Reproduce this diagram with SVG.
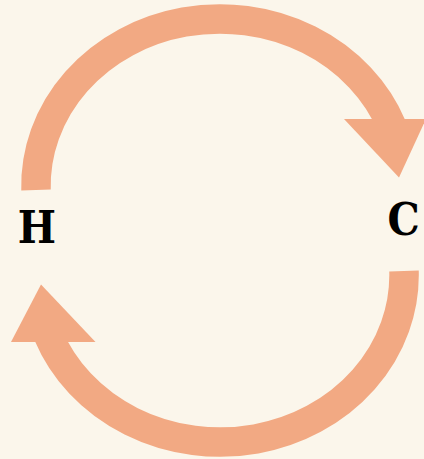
<svg xmlns="http://www.w3.org/2000/svg" width="424" height="459" viewBox="0 0 424 459">
  <style>
    .arc { fill: none; stroke: #F2A983; stroke-width: 29.5; stroke-linecap: butt; }
    .head { fill: #F2A983; }
    .lbl { font-family: "DejaVu Serif Condensed", "DejaVu Serif", "Liberation Serif", serif; font-weight: bold; font-size: 45px; fill: #000; text-anchor: middle; }
  </style>
  <rect width="424" height="459" fill="#FBF6EB"/>
  <g id="connectors">
    <g id="arrow-H-to-C">
      <path class="arc" d="M 36 190 A 184 167 0 0 1 391.7 126"/>
      <polygon class="head" points="344,119 426,119 399,177.5"/>
    </g>
    <g id="arrow-C-to-H">
      <path class="arc" d="M 404 271 A 184 167 0 0 1 48.3 335"/>
      <polygon class="head" points="95.5,342 11,342 41,284.5"/>
    </g>
  </g>
  <g id="node-H"><text class="lbl" x="37" y="243">H</text></g>
  <g id="node-C"><text class="lbl" x="403.5" y="235">C</text></g>
</svg>
